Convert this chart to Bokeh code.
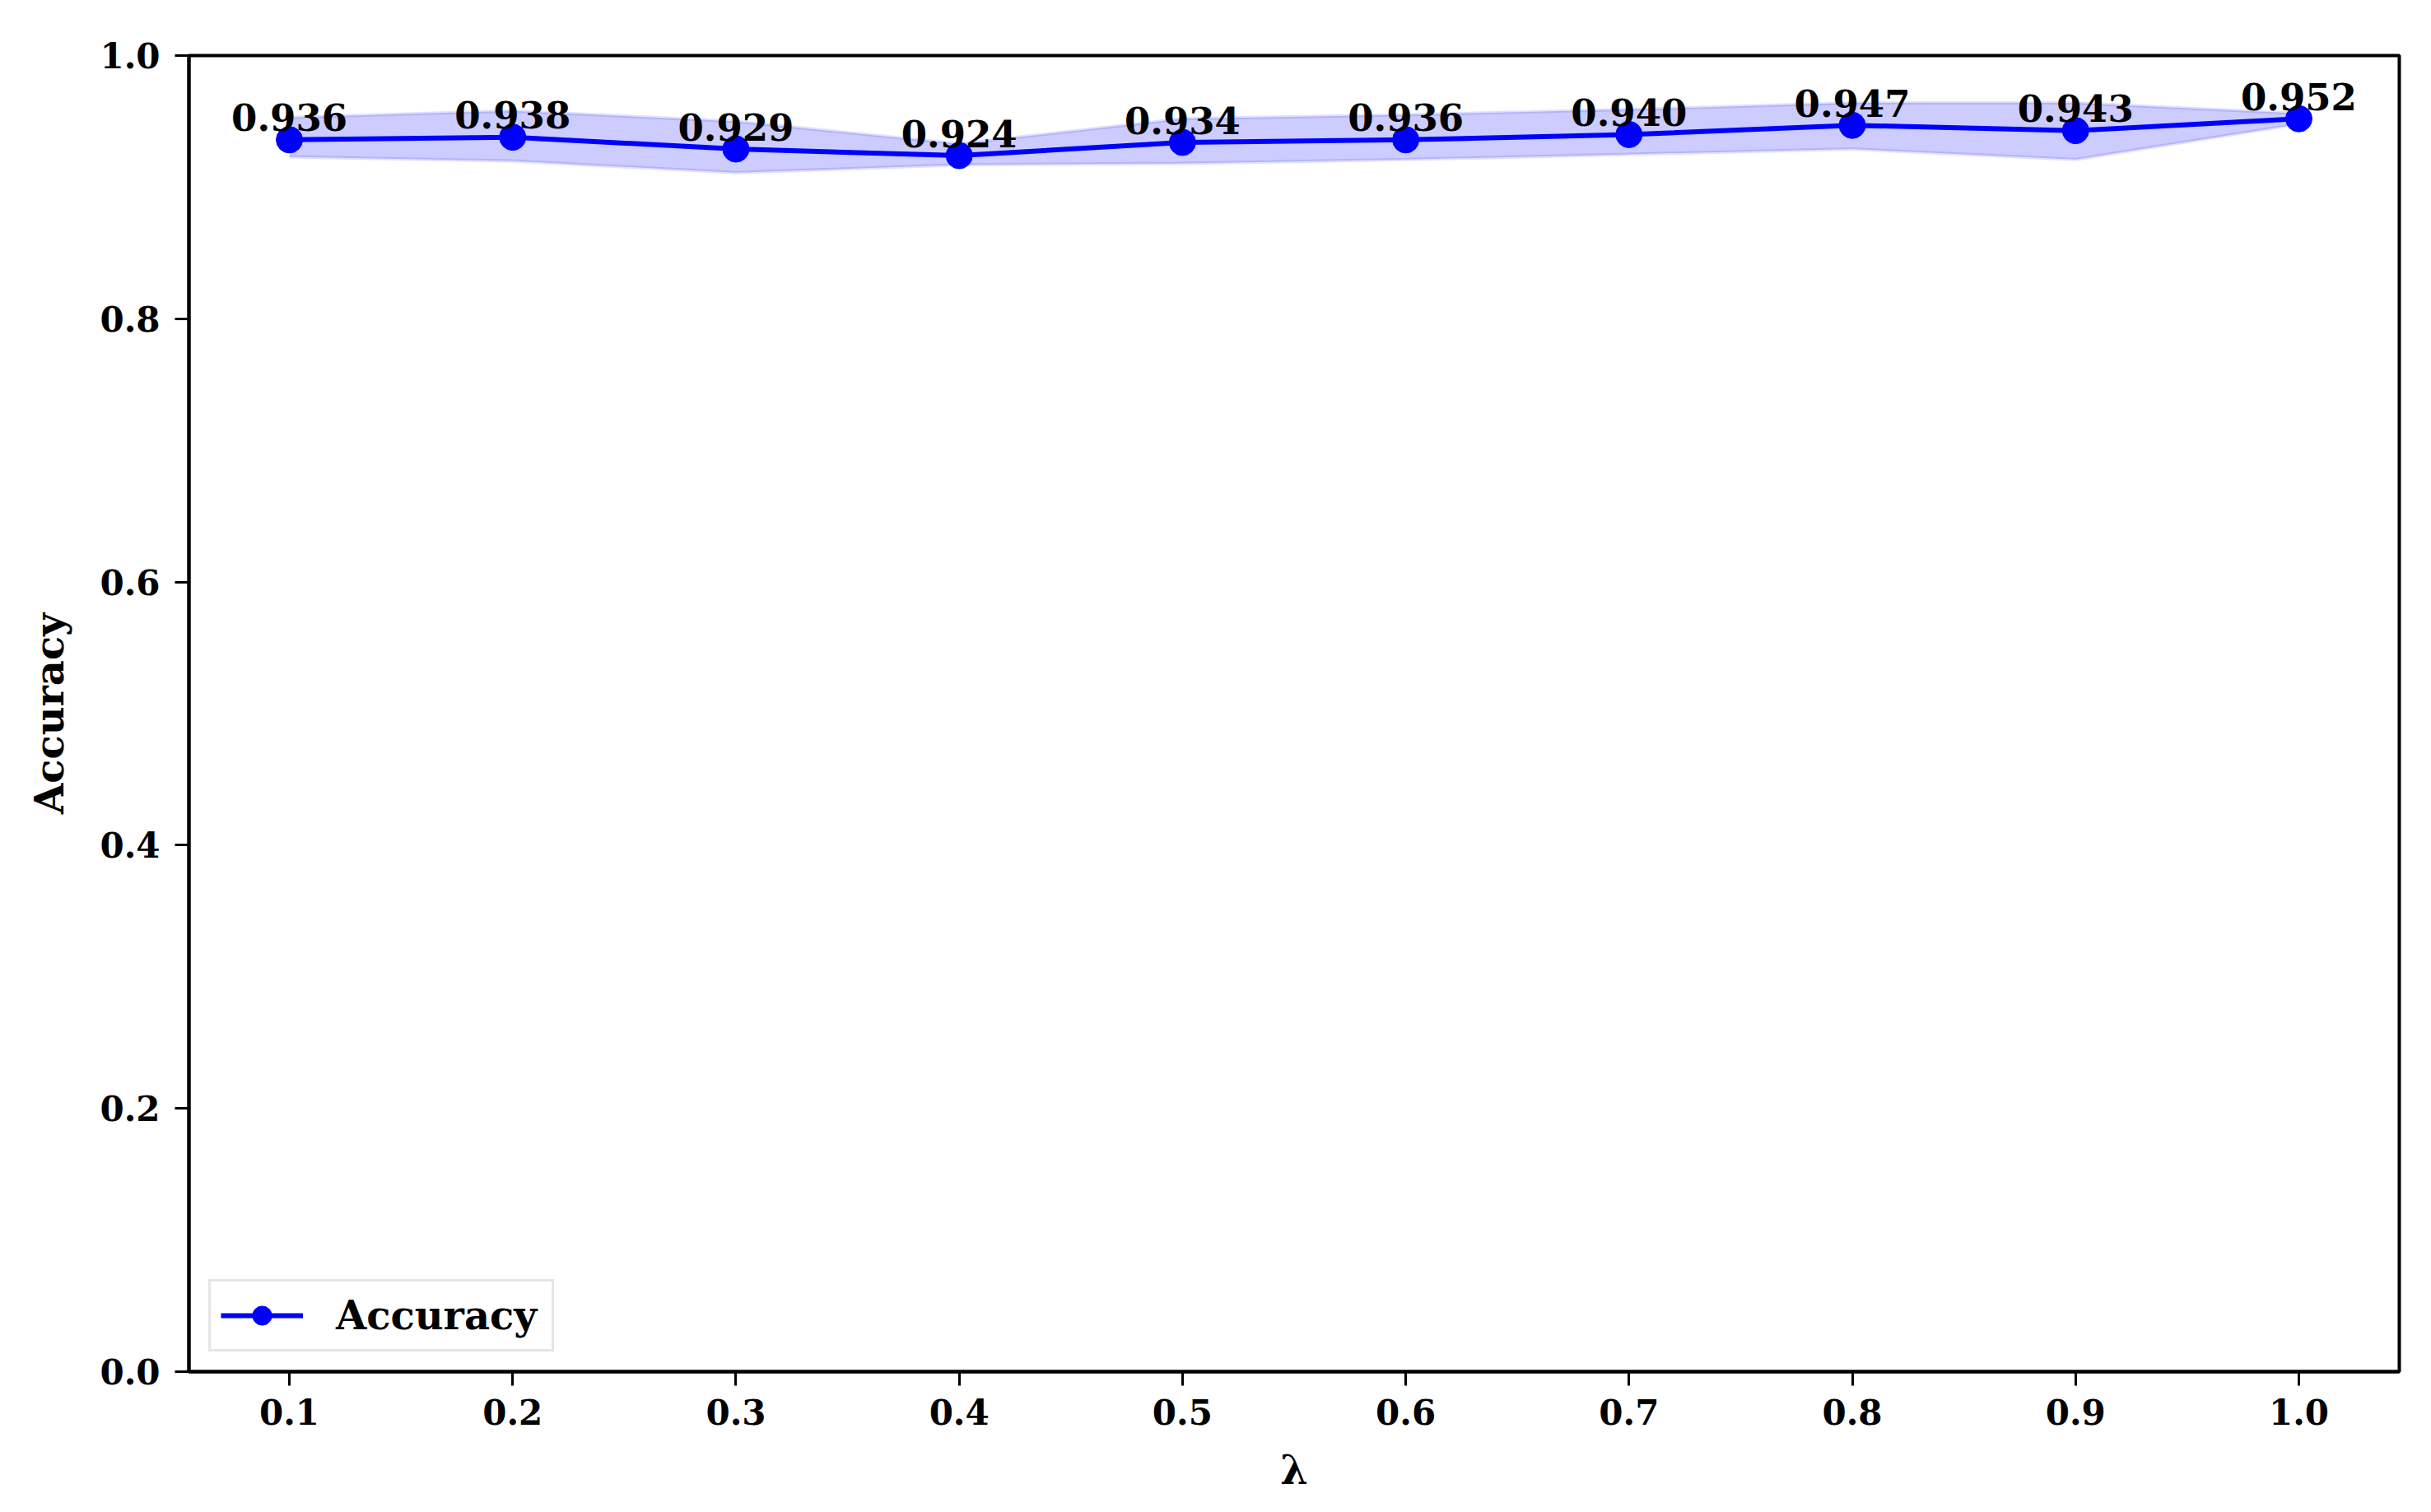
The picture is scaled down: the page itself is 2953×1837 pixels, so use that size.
from bokeh.plotting import figure
from bokeh.models import ColumnDataSource, Range1d, FixedTicker, PrintfTickFormatter, Legend, LegendItem
from bokeh.core.properties import value
from bokeh.embed import file_html
from bokeh.resources import INLINE

# ---- data ----
lambdas = [0.1, 0.2, 0.3, 0.4, 0.5, 0.6, 0.7, 0.8, 0.9, 1.0]
accuracy = [0.936, 0.938, 0.929, 0.924, 0.934, 0.936, 0.940, 0.947, 0.943, 0.952]
acc_upper = [0.953, 0.958, 0.950, 0.933, 0.952, 0.955, 0.959, 0.964, 0.964, 0.956]
acc_lower = [0.923, 0.920, 0.911, 0.917, 0.918, 0.921, 0.925, 0.929, 0.921, 0.948]
acc_labels = [f"{v:.3f}" for v in accuracy]
x_ticks = [0.1, 0.2, 0.3, 0.4, 0.5, 0.6, 0.7, 0.8, 0.9, 1.0]
y_ticks = [0.0, 0.2, 0.4, 0.6, 0.8, 1.0]

FONT = "DejaVu Serif"
BLUE = "#0000ff"

src = ColumnDataSource(dict(x=lambdas, y=accuracy, up=acc_upper, lo=acc_lower, lbl=acc_labels))

p = figure(frame_width=2685, frame_height=1599,
           x_range=Range1d(0.055, 1.045), y_range=Range1d(0.0, 1.0),
           output_backend="svg", toolbar_location=None,
           min_border_left=229, min_border_top=67, min_border_right=22, min_border_bottom=150)

p.background_fill_color = "white"
p.border_fill_color = "white"
p.outline_line_color = "black"
p.outline_line_width = 4
p.xgrid.visible = False
p.ygrid.visible = False

# band
p.varea(x="x", y1="lo", y2="up", source=src, fill_color=BLUE, fill_alpha=0.2)
p.line(x="x", y="up", source=src, line_color=BLUE, line_alpha=0.12, line_width=4)
p.line(x="x", y="lo", source=src, line_color=BLUE, line_alpha=0.12, line_width=4)

# main line + markers
r_line = p.line(x="x", y="y", source=src, line_color=BLUE, line_width=6)
r_pts = p.scatter(x="x", y="y", source=src, size=32, fill_color=BLUE, line_color=BLUE)

# value labels
p.text(x="x", y="y", text="lbl", source=src, y_offset=-27,
       text_align="center", text_baseline="alphabetic",
       text_font=value(FONT), text_font_style="bold", text_font_size=value("45px"),
       text_color="black")

# axes
for ax in (p.xaxis[0], p.yaxis[0]):
    ax.axis_line_width = 4
    ax.axis_line_color = "black"
    ax.major_tick_line_width = 3
    ax.major_tick_line_color = "black"
    ax.major_tick_out = 17
    ax.major_tick_in = 0
    ax.minor_tick_out = 0
    ax.minor_tick_in = 0
    ax.major_label_text_font = FONT
    ax.major_label_text_font_style = "bold"
    ax.major_label_text_font_size = "42px"
    ax.major_label_text_color = "black"
    ax.axis_label_text_font = FONT
    ax.axis_label_text_font_style = "bold"
    ax.axis_label_text_font_size = "48px"
    ax.axis_label_text_color = "black"
    ax.formatter = PrintfTickFormatter(format="%.1f")

p.xaxis[0].ticker = FixedTicker(ticks=x_ticks)
p.yaxis[0].ticker = FixedTicker(ticks=y_ticks)
p.xaxis[0].axis_label = "λ"
p.yaxis[0].axis_label = "Accuracy"
p.xaxis[0].major_label_standoff = 16
p.yaxis[0].major_label_standoff = 18
p.xaxis[0].axis_label_standoff = 24
p.yaxis[0].axis_label_standoff = 30

legend = Legend(items=[LegendItem(label="Accuracy", renderers=[r_line, r_pts])],
                location="bottom_left")
legend.margin = 24
legend.padding = 12
legend.glyph_width = 100
legend.glyph_height = 58
legend.label_standoff = 40
legend.label_width = 250
legend.label_text_font = FONT
legend.label_text_font_style = "bold"
legend.label_text_font_size = "48px"
legend.label_text_color = "black"
legend.border_line_color = "#cccccc"
legend.border_line_width = 3
legend.background_fill_color = "white"
legend.background_fill_alpha = 1.0
p.add_layout(legend)

open("out.html", "w").write(file_html(p, INLINE))
